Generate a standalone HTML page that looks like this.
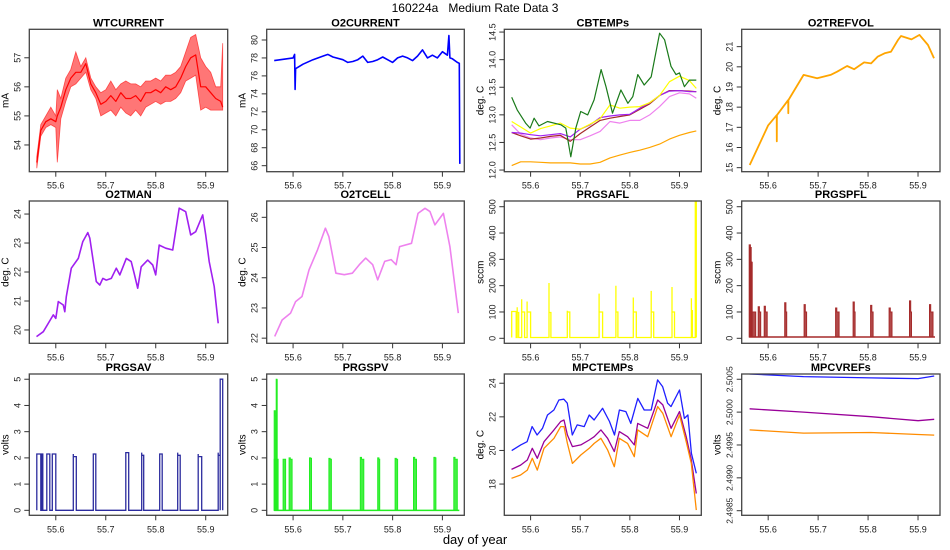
<!DOCTYPE html>
<html><head><meta charset="utf-8">
<style>
html,body{margin:0;padding:0;background:#fff;}
svg{display:block;font-family:"Liberation Sans",Arial,sans-serif;}
</style></head>
<body>
<svg id="chart" width="950" height="550" viewBox="0 0 950 550">
<text x="475" y="12" font-size="12" text-anchor="middle" style="white-space:pre">160224a   Medium Rate Data 3</text>
<text x="475" y="544" font-size="13" text-anchor="middle">day of year</text>
</svg>
<script>
// ---------- data ----------
const xTicks = [55.6, 55.7, 55.8, 55.9];
const xTickLabels = ["55.6", "55.7", "55.8", "55.9"];

// WTCURRENT
const wtT = [55.562,55.57,55.58,55.59,55.60,55.603,55.61,55.62,55.63,55.64,55.65,55.66,55.67,55.68,55.69,55.70,55.71,55.72,55.73,55.74,55.75,55.76,55.77,55.78,55.79,55.80,55.81,55.82,55.83,55.84,55.85,55.86,55.87,55.88,55.89,55.90,55.91,55.92,55.93,55.934];
const wtLow = [53.2,54.3,54.6,54.7,54.6,53.4,54.9,55.5,56.0,56.1,56.3,56.5,55.9,55.6,55.0,55.1,55.2,55.0,55.3,55.1,55.0,55.2,55.0,55.3,55.4,55.5,55.4,55.5,55.5,55.6,55.8,56.2,56.3,56.4,55.2,55.3,55.2,55.2,55.2,55.2];
const wtHigh = [53.6,54.7,55.0,55.3,55.0,55.9,55.6,56.3,56.6,57.2,56.7,57.0,56.3,56.0,55.8,55.9,56.2,55.9,56.1,56.2,56.1,56.1,56.0,56.2,56.2,56.3,56.2,56.4,56.4,56.5,56.7,57.2,57.7,57.8,57.0,56.7,56.5,56.0,56.0,57.5];
const wtMid = [53.4,54.5,54.8,54.9,54.8,55.0,55.3,55.9,56.3,56.5,56.5,56.8,56.1,55.8,55.4,55.5,55.7,55.5,55.8,55.6,55.6,55.7,55.5,55.8,55.8,55.9,55.8,56.0,55.9,56.0,56.3,56.7,57.0,57.1,56.0,56.0,55.8,55.6,55.5,55.3];
const wtTicks = [54,55,56,57];

// O2CURRENT
const o2cT = [55.562,55.60,55.603,55.604,55.605,55.62,55.64,55.66,55.67,55.68,55.70,55.71,55.72,55.73,55.74,55.75,55.76,55.77,55.78,55.79,55.80,55.81,55.82,55.83,55.84,55.85,55.86,55.87,55.88,55.89,55.90,55.91,55.913,55.915,55.92,55.93,55.934,55.935];
const o2cV = [77.7,78.0,78.4,74.5,76.8,77.3,77.8,78.2,78.4,78.1,77.8,77.5,77.6,77.8,78.2,77.5,77.6,77.8,78.1,77.8,77.5,78.0,78.2,78.0,77.7,78.2,78.9,78.0,78.3,78.0,78.7,78.3,80.5,78.0,77.9,77.5,77.4,66.2];
const o2cTicks = [66,68,70,72,74,76,78,80];

// CBTEMPs
const cbGreenT = [55.562,55.573,55.590,55.599,55.607,55.617,55.634,55.661,55.671,55.681,55.691,55.701,55.715,55.728,55.742,55.752,55.765,55.782,55.796,55.806,55.816,55.829,55.843,55.860,55.870,55.883,55.893,55.900,55.910,55.920,55.934];
const cbGreen = [13.32,13.09,12.85,12.76,12.94,12.80,12.88,12.82,12.76,12.24,12.76,13.06,13.0,13.27,13.82,13.51,13.03,13.45,13.21,13.33,13.73,13.54,13.69,14.48,14.36,13.88,13.73,13.76,13.51,13.63,13.63];
const cbT = [55.562,55.58,55.60,55.62,55.64,55.66,55.68,55.70,55.72,55.74,55.76,55.78,55.80,55.82,55.84,55.86,55.88,55.90,55.92,55.934];
const cbYellow = [12.88,12.78,12.67,12.75,12.80,12.85,12.76,12.74,12.83,12.93,13.18,13.12,13.14,13.15,13.22,13.35,13.60,13.70,13.62,13.48];
const cbPurple = [12.68,12.67,12.64,12.62,12.64,12.66,12.60,12.74,12.82,12.95,12.98,13.0,13.01,13.12,13.22,13.35,13.43,13.44,13.42,13.42];
const cbBrown = [12.68,12.62,12.56,12.58,12.61,12.63,12.52,12.66,12.78,12.90,12.94,12.97,13.0,13.10,13.20,13.35,13.44,13.44,13.43,13.42];
const cbPink = [12.82,12.65,12.58,12.55,12.58,12.60,12.55,12.55,12.62,12.70,12.88,12.85,12.90,12.90,13.00,13.15,13.33,13.40,13.38,13.30];
const cbOrange = [12.08,12.15,12.15,12.14,12.13,12.13,12.13,12.11,12.11,12.14,12.22,12.27,12.32,12.36,12.41,12.47,12.56,12.63,12.68,12.71];
const cbTicks = [12.0,12.5,13.0,13.5,14.0,14.5];
const cbTickLabels = ["12.0","12.5","13.0","13.5","14.0","14.5"];

// O2TREFVOL
const refT = [55.563,55.600,55.617,55.6172,55.6174,55.640,55.6402,55.6404,55.671,55.698,55.725,55.738,55.758,55.772,55.792,55.806,55.819,55.833,55.846,55.860,55.866,55.887,55.903,55.920,55.932];
const refV = [15.13,17.1,17.6,16.3,17.6,18.35,17.7,18.35,19.6,19.43,19.6,19.76,20.04,19.88,20.22,20.17,20.5,20.67,20.75,21.33,21.53,21.36,21.58,21.08,20.42];
const refTicks = [15,16,17,18,19,20,21];

// O2TMAN
const manT = [55.5615,55.575,55.595,55.600,55.605,55.615,55.618,55.621,55.631,55.645,55.654,55.664,55.668,55.681,55.688,55.694,55.701,55.711,55.721,55.728,55.741,55.751,55.757,55.764,55.771,55.784,55.794,55.800,55.807,55.820,55.834,55.847,55.860,55.870,55.880,55.894,55.900,55.907,55.917,55.925];
const manV = [19.77,19.94,20.52,20.40,20.98,20.86,20.63,21.15,22.13,22.47,23.05,23.36,23.17,21.67,21.55,21.78,21.72,21.78,22.13,21.9,22.47,22.36,21.95,21.44,22.18,22.41,22.24,21.9,22.93,22.82,22.76,24.2,24.08,23.28,23.39,23.97,23.28,22.36,21.5,20.23];
const manTicks = [20,21,22,23,24];

// O2TCELL
const cellT = [55.563,55.578,55.595,55.605,55.618,55.632,55.649,55.665,55.672,55.686,55.703,55.719,55.733,55.746,55.760,55.770,55.784,55.797,55.807,55.814,55.838,55.851,55.865,55.875,55.885,55.902,55.915,55.932];
const cellV = [22.06,22.6,22.83,23.21,23.38,24.26,24.92,25.64,25.36,24.15,24.1,24.15,24.43,24.65,24.43,23.93,24.54,24.6,24.43,25.03,25.14,26.13,26.3,26.19,25.75,26.13,25.03,22.83];
const cellTicks = [22,23,24,25,26];

// PRGSAFL pulses
const safStart = [55.562,55.573,55.582,55.593,55.637,55.674,55.738,55.772,55.807,55.843,55.885,55.924,55.932];
const safEnd = [55.571,55.576,55.588,55.600,55.641,55.679,55.745,55.776,55.813,55.848,55.890,55.926,55.934];
const safPeak = [102,118,148,140,210,105,170,200,155,180,195,152,520];
const safPlat = [102,98,100,100,98,100,100,100,100,100,100,105,520];
const flTicks = [0,100,200,300,400,500];

// PRGSPFL pulses
const spfStart = [55.562,55.563,55.566,55.580,55.592,55.633,55.672,55.735,55.770,55.805,55.842,55.883,55.923];
const spfEnd = [55.575,55.566,55.568,55.585,55.598,55.637,55.677,55.742,55.774,55.810,55.848,55.887,55.930];
const spfPeak = [355,345,290,120,122,135,128,115,138,125,115,142,128];
const spfPlat = [100,345,290,100,100,100,100,100,100,100,100,100,100];

// PRGSAV pulses
const savStart = [55.562,55.572,55.582,55.593,55.635,55.675,55.740,55.772,55.808,55.844,55.885,55.925,55.929];
const savEnd = [55.570,55.574,55.588,55.600,55.641,55.680,55.746,55.776,55.813,55.849,55.892,55.929,55.934];
const savPeak = [2.15,2.15,2.15,2.15,2.15,2.1,2.2,2.2,2.15,2.2,2.15,2.2,5.0];
const savPlat = [2.15,2.15,2.15,2.15,2.05,2.15,2.2,2.1,2.15,2.1,2.05,2.1,5.0];
const vTicks = [0,1,2,3,4,5];

// PRGSPV pulses
const spvStart = [55.562,55.562,55.566,55.580,55.592,55.633,55.672,55.735,55.770,55.805,55.842,55.883,55.923];
const spvEnd = [55.570,55.565,55.568,55.585,55.598,55.637,55.677,55.742,55.774,55.810,55.848,55.887,55.930];
const spvPeak = [1.95,3.8,5.0,1.95,2.0,2.0,1.98,2.02,2.0,1.98,2.02,2.02,2.02];
const spvPlat = [1.95,3.6,5.0,1.95,1.95,1.98,1.95,1.95,1.95,1.95,1.95,2.0,1.95];

// MPCTEMPs
const mpcBlueT = [55.562,55.580,55.593,55.603,55.613,55.624,55.634,55.647,55.657,55.667,55.674,55.684,55.694,55.708,55.718,55.728,55.745,55.759,55.769,55.779,55.792,55.802,55.816,55.829,55.843,55.856,55.866,55.876,55.883,55.900,55.910,55.917,55.924,55.934];
const mpcBlue = [19.99,20.33,20.52,21.42,20.92,21.32,22.11,22.41,23.0,23.05,22.81,20.92,21.52,21.42,22.11,21.81,22.51,21.72,20.92,22.41,22.31,21.61,23.1,22.41,22.41,24.2,23.8,22.81,22.61,23.6,21.91,22.11,19.83,18.64];
const mpcT = [55.5616,55.5798,55.5933,55.6034,55.6135,55.627,55.6472,55.6607,55.6674,55.6742,55.6843,55.7011,55.7180,55.7281,55.7416,55.7551,55.7686,55.7787,55.7955,55.8090,55.8158,55.8360,55.8562,55.8664,55.8832,55.9001,55.9136,55.9238,55.9339];
const mpcPurple = [18.87,19.13,19.43,20.13,19.53,20.52,21.22,21.72,21.81,20.92,20.23,20.33,20.62,20.82,21.22,20.72,19.93,21.12,20.82,20.33,21.61,21.32,23.0,22.71,21.32,22.31,20.82,19.43,17.44];
const mpcOrange = [18.34,18.54,18.83,19.53,18.83,20.13,20.72,21.42,21.42,20.42,19.23,19.73,20.13,20.42,20.72,20.03,19.03,20.72,20.42,19.63,21.22,20.82,22.61,22.21,20.82,22.11,20.52,19.23,16.45];
const mpcTicks = [18,20,22,24];

// MPCVREFs
const vrefT = [55.5629,55.6708,55.8057,55.9001,55.9324];
const vrefBlue = [2.50058,2.50054,2.50052,2.50051,2.50055];
const vrefPurple = [2.50005,2.50000,2.49993,2.49987,2.49989];
const vrefOrange = [2.49973,2.49968,2.49969,2.49966,2.49965];
const vrefTicks = [2.4985,2.4990,2.4995,2.5000,2.5005];
const vrefTickLabels = ["2.4985","2.4990","2.4995","2.5000","2.5005"];

// ---------- drawing ----------
const NS = "http://www.w3.org/2000/svg";
const svg = document.getElementById('chart');
function el(tag, parent) { const e = document.createElementNS(NS, tag); parent.appendChild(e); return e; }

const cols = [[29.3,227.7],[266.7,464.3],[504.3,701.3],[741.7,940]];
const rows = [[29.3,171.7],[201,343.3],[374,515.3]];
const X0 = 55.547, X1 = 55.944;

function makePanel(name, title, col, row, y0, y1, yTicks, yLabels, yTitle, yFont) {
  const [L, R] = cols[col], [T, B] = rows[row];
  const g = el('g', svg);
  
  
  const sx = t => L + (t - X0) / (X1 - X0) * (R - L);
  const sy = v => B - (v - y0) / (y1 - y0) * (B - T);
  const clipId = 'clip-' + name;
  const cp = el('clipPath', g); cp.setAttribute('id', clipId);
  const cr = el('rect', cp); cr.setAttribute('x', L); cr.setAttribute('y', T); cr.setAttribute('width', R - L); cr.setAttribute('height', B - T);
  const plot = el('g', g); plot.setAttribute('clip-path', 'url(#' + clipId + ')');
  
  
  const box = el('rect', g);
  box.setAttribute('x', L); box.setAttribute('y', T); box.setAttribute('width', R - L); box.setAttribute('height', B - T);
  box.setAttribute('fill', 'none'); box.setAttribute('stroke', '#444'); box.setAttribute('stroke-width', '1.3');
  
  
  const tt = el('text', g);
  tt.setAttribute('x', (L + R) / 2); tt.setAttribute('y', T - 3); tt.setAttribute('font-size', '11'); tt.setAttribute('font-weight', 'bold'); tt.setAttribute('text-anchor', 'middle');
  tt.textContent = title;
  
  
  xTicks.forEach((t, i) => {
    const x = sx(t);
    const ln = el('line', g); ln.setAttribute('x1', x); ln.setAttribute('x2', x); ln.setAttribute('y1', B); ln.setAttribute('y2', B + 5); ln.setAttribute('stroke', '#333');
    
    
    const lb = el('text', g); lb.setAttribute('x', x); lb.setAttribute('y', B + 17); lb.setAttribute('font-size', '9'); lb.setAttribute('text-anchor', 'middle'); lb.setAttribute('fill', '#222');
    lb.textContent = xTickLabels[i];
    
    
  });
  yTicks.forEach((v, i) => {
    const y = sy(v);
    const ln = el('line', g); ln.setAttribute('x1', L); ln.setAttribute('x2', L - 5); ln.setAttribute('y1', y); ln.setAttribute('y2', y); ln.setAttribute('stroke', '#333');
    
    
    const lb = el('text', g); const lx = L - 9;
    lb.setAttribute('x', lx); lb.setAttribute('y', y); lb.setAttribute('font-size', yFont || '9'); lb.setAttribute('text-anchor', 'middle'); lb.setAttribute('fill', '#222');
    lb.setAttribute('transform', 'rotate(-90,' + lx + ',' + y + ')');
    lb.textContent = yLabels ? yLabels[i] : String(v);
    
    
  });
  const yt = el('text', g); const ytx = L - 21, yty = (T + B) / 2;
  yt.setAttribute('x', ytx); yt.setAttribute('y', yty); yt.setAttribute('font-size', '10'); yt.setAttribute('text-anchor', 'middle');
  yt.setAttribute('transform', 'rotate(-90,' + ytx + ',' + yty + ')');
  yt.textContent = yTitle;
  
  
  return { plot, sx, sy };
}

function line(p, ts, vs, color, w, nm) {
  const pl = el('polyline', p.plot);
  pl.setAttribute('points', ts.map((t, i) => p.sx(t).toFixed(1) + ',' + p.sy(vs[i]).toFixed(1)).join(' '));
  pl.setAttribute('fill', 'none'); pl.setAttribute('stroke', color); pl.setAttribute('stroke-width', w); pl.setAttribute('stroke-linejoin', 'round');
  
  
}
function band(p, ts, lo, hi, color, nm) {
  const pts = ts.map((t, i) => p.sx(t).toFixed(1) + ',' + p.sy(hi[i]).toFixed(1));
  for (let i = ts.length - 1; i >= 0; i--) pts.push(p.sx(ts[i]).toFixed(1) + ',' + p.sy(lo[i]).toFixed(1));
  const pg = el('polygon', p.plot);
  pg.setAttribute('points', pts.join(' ')); pg.setAttribute('fill', color); pg.setAttribute('fill-opacity', '0.6'); pg.setAttribute('stroke', color); pg.setAttribute('stroke-width', '0.8'); pg.setAttribute('stroke-opacity', '0.7');
  
  
}
function pulseLine(p, st, en, pk, pl, base, tEnd, color, w, nm) {
  const pts = [[X0 + 0.015, base]];
  st.forEach((s, i) => { pts.push([s, base], [s, pk[i]], [s, pl[i]], [en[i], pl[i]], [en[i], base]); });
  pts.push([tEnd, base]);
  const e = el('polyline', p.plot);
  e.setAttribute('points', pts.map(q => p.sx(q[0]).toFixed(1) + ',' + p.sy(q[1]).toFixed(1)).join(' '));
  e.setAttribute('fill', 'none'); e.setAttribute('stroke', color); e.setAttribute('stroke-width', w);
  
  
}
function pulseFill(p, st, en, pk, pl, base, tEnd, color, nm) {
  const bl = el('line', p.plot);
  bl.setAttribute('x1', p.sx(st[0])); bl.setAttribute('x2', p.sx(tEnd)); bl.setAttribute('y1', p.sy(base)); bl.setAttribute('y2', p.sy(base));
  bl.setAttribute('stroke', color); bl.setAttribute('stroke-width', '1.5');
  
  
  st.forEach((s, i) => {
    const x0 = p.sx(s), x1 = p.sx(en[i]);
    const pg = el('polygon', p.plot);
    pg.setAttribute('points', [[x0, p.sy(base)], [x0, p.sy(pk[i])], [x0 + 1.2, p.sy(pk[i])], [x0 + 1.2, p.sy(pl[i])], [x1, p.sy(pl[i])], [x1, p.sy(base)]].map(q => q[0].toFixed(1) + ',' + q[1].toFixed(1)).join(' '));
    pg.setAttribute('fill', color); pg.setAttribute('stroke', color); pg.setAttribute('stroke-width', '1'); pg.setAttribute('fill-opacity', '0.85');
    
    
  });
}

// Row 1
let p = makePanel('wtcurrent', 'WTCURRENT', 0, 0, 53.08, 57.98, wtTicks, null, 'mA');
band(p, wtT, wtLow, wtHigh, '#ff1a1a', 'wtcurrent-band');
line(p, wtT, wtMid, '#ff0000', 1.2, 'wtcurrent-series');

p = makePanel('o2current', 'O2CURRENT', 1, 0, 65.33, 81.19, o2cTicks, null, 'mA');
line(p, o2cT, o2cV, '#0000ff', 1.6, 'o2current-series');

p = makePanel('cbtemps', 'CBTEMPs', 2, 0, 11.97, 14.55, cbTicks, cbTickLabels, 'deg. C');
line(p, cbT, cbOrange, '#ffa500', 1.2, 'cbtemps-orange-series');
line(p, cbT, cbPink, '#ee82ee', 1.2, 'cbtemps-violet-series');
line(p, cbT, cbBrown, '#a52a2a', 1.2, 'cbtemps-brown-series');
line(p, cbT, cbPurple, '#a020f0', 1.2, 'cbtemps-purple-series');
line(p, cbT, cbYellow, '#ffff00', 1.2, 'cbtemps-yellow-series');
line(p, cbGreenT, cbGreen, '#1a7a1a', 1.2, 'cbtemps-green-series');

p = makePanel('o2trefvol', 'O2TREFVOL', 3, 0, 14.8, 21.86, refTicks, null, 'deg. C');
line(p, refT, refV, '#ffa500', 1.8, 'o2trefvol-series');

// Row 2
p = makePanel('o2tman', 'O2TMAN', 0, 1, 19.54, 24.45, manTicks, null, 'deg. C');
line(p, manT, manV, '#a020f0', 1.6, 'o2tman-series');

p = makePanel('o2tcell', 'O2TCELL', 1, 1, 21.83, 26.54, cellTicks, null, 'deg. C');
line(p, cellT, cellV, '#ee82ee', 1.6, 'o2tcell-series');

p = makePanel('prgsafl', 'PRGSAFL', 2, 1, -19, 521.7, flTicks, null, 'sccm');
pulseLine(p, safStart, safEnd, safPeak, safPlat, 3, 55.934, '#ffff00', 1.3, 'prgsafl-series');

p = makePanel('prgspfl', 'PRGSPFL', 3, 1, -19, 521.7, flTicks, null, 'sccm');
pulseFill(p, spfStart, spfEnd, spfPeak, spfPlat, 5, 55.934, '#a52a2a', 'prgspfl-series');

// Row 3
p = makePanel('prgsav', 'PRGSAV', 0, 2, -0.19, 5.2, vTicks, null, 'volts');
pulseLine(p, savStart, savEnd, savPeak, savPlat, 0, 55.934, '#2b2b9e', 1.3, 'prgsav-series');

p = makePanel('prgspv', 'PRGSPV', 1, 2, -0.19, 5.2, vTicks, null, 'volts');
pulseFill(p, spvStart, spvEnd, spvPeak, spvPlat, 0, 55.934, '#22ee22', 'prgspv-series');

p = makePanel('mpctemps', 'MPCTEMPs', 2, 2, 16.14, 24.55, mpcTicks, null, 'deg. C');
line(p, mpcBlueT, mpcBlue, '#1f1fff', 1.3, 'mpctemps-blue-series');
line(p, mpcT, mpcPurple, '#990099', 1.3, 'mpctemps-purple-series');
line(p, mpcT, mpcOrange, '#ff8c00', 1.3, 'mpctemps-orange-series');

p = makePanel('mpcvrefs', 'MPCVREFs', 3, 2, 2.49843, 2.50058, vrefTicks, vrefTickLabels, 'volts', '8.5');
line(p, vrefT, vrefBlue, '#1f1fff', 1.3, 'mpcvrefs-blue-series');
line(p, vrefT, vrefPurple, '#990099', 1.3, 'mpcvrefs-purple-series');
line(p, vrefT, vrefOrange, '#ff8c00', 1.3, 'mpcvrefs-orange-series');
</script>
</body></html>
